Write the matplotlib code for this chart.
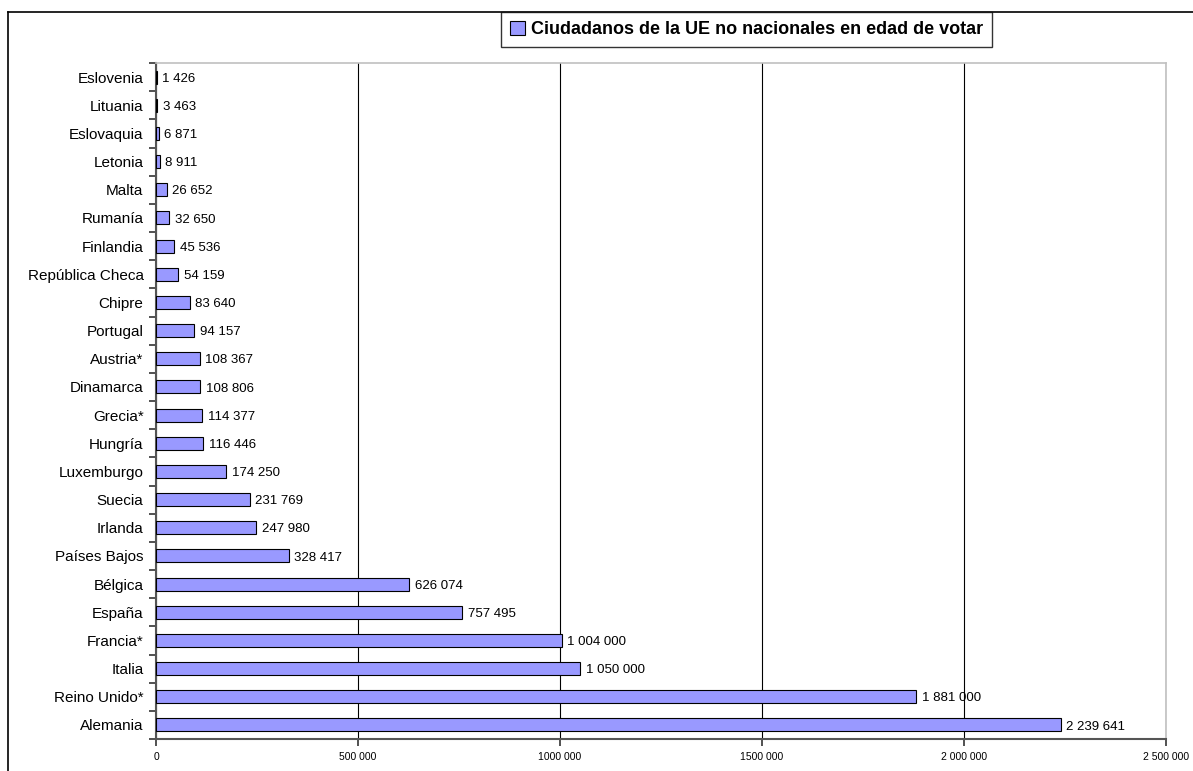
import matplotlib
matplotlib.use("Agg")
import matplotlib.pyplot as plt
from matplotlib.lines import Line2D
import numpy as np

plt.rcParams['font.family'] = ['Liberation Sans', 'DejaVu Sans']

countries = ["Alemania", "Reino Unido*", "Italia", "Francia*", "España", "Bélgica",
             "Países Bajos", "Irlanda", "Suecia", "Luxemburgo", "Hungría", "Grecia*",
             "Dinamarca", "Austria*", "Portugal", "Chipre", "República Checa", "Finlandia",
             "Rumanía", "Malta", "Letonia", "Eslovaquia", "Lituania", "Eslovenia"]
values = [2239641, 1881000, 1050000, 1004000, 757495, 626074,
          328417, 247980, 231769, 174250, 116446, 114377,
          108806, 108367, 94157, 83640, 54159, 45536,
          32650, 26652, 8911, 6871, 3463, 1426]
xticks = [0, 500000, 1000000, 1500000, 2000000, 2500000]
xtick_labels = ["0", "500 000", "1000 000", "1500 000", "2 000 000", "2 500 000"]
series_name = "Ciudadanos de la UE no nacionales en edad de votar"

def fmt(v):
    return f"{v:,}".replace(",", " ")

fig = plt.figure(figsize=(11.93, 7.71), dpi=100)
ax = fig.add_axes([156/1193, 1-739/771, (1166-156)/1193, (739-63)/771])

y = np.arange(len(countries))
ax.barh(y, values, height=0.46, color="#9999FF", edgecolor="black", linewidth=0.8,
        label=series_name, zorder=3)
for yi, v in zip(y, values):
    ax.text(v + 14000, yi - 0.06, fmt(v), va="center", ha="left", fontsize=9.5, zorder=4)

ax.set_xlim(0, 2500000)
ax.set_ylim(-0.5, len(countries) - 0.5)
ax.set_xticks(xticks)
ax.set_xticklabels(xtick_labels, fontsize=7.5)
ax.set_yticks(y)
ax.set_yticklabels(countries, fontsize=11)
ax.tick_params(axis="y", length=0, pad=9)
ax.set_yticks(np.arange(-0.5, len(countries), 1), minor=True)
ax.tick_params(axis="y", which="minor", length=5, width=1.2, color="#333333", direction="out")
ax.tick_params(axis="x", length=5, width=1.2, color="#333333", direction="out", pad=4)

ax.grid(axis="x", color="black", linewidth=0.8, zorder=0)
ax.set_axisbelow(True)

for s in ["top", "right"]:
    ax.spines[s].set_color("#c0c0c0")
    ax.spines[s].set_linewidth(1.2)
for s in ["left", "bottom"]:
    ax.spines[s].set_color("#555555")
    ax.spines[s].set_linewidth(1.5)

# outer chart frame (top and left visible)
fig.add_artist(Line2D([8/1193, 1.0], [1-12/771, 1-12/771], transform=fig.transFigure,
                      color="black", linewidth=1.2))
fig.add_artist(Line2D([8/1193, 8/1193], [1-12/771, 0.0], transform=fig.transFigure,
                      color="black", linewidth=1.2))

leg = fig.legend(loc="center", bbox_to_anchor=((497+996)/2/1193, 1-29.5/771),
                 frameon=True, fancybox=False, prop={"weight": "bold", "size": 13},
                 handlelength=0.85, handleheight=0.85, handletextpad=0.3,
                 borderpad=0.5, borderaxespad=0)
leg.get_frame().set_edgecolor("black")
leg.get_frame().set_linewidth(1.0)

fig.savefig("out.png", dpi=100)
